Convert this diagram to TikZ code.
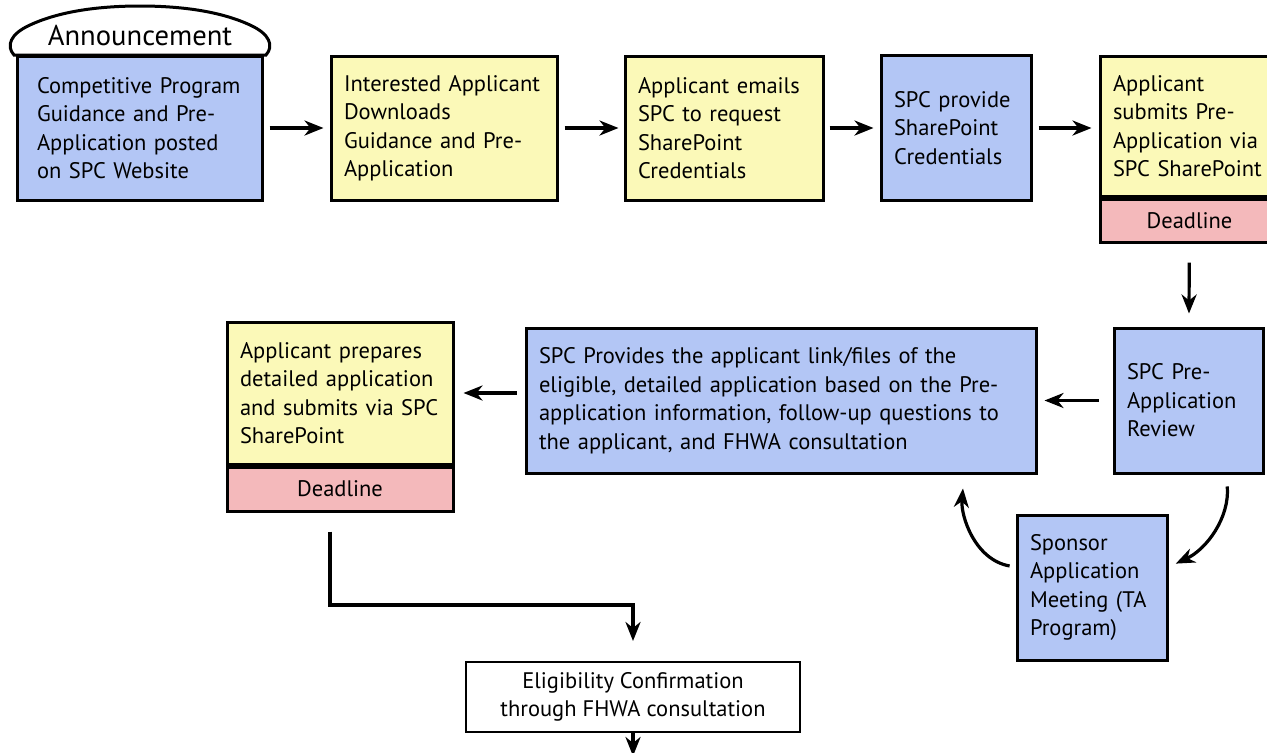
\documentclass[tikz,border=0pt]{standalone}
\usepackage{fontspec}
\setmainfont{PT Sans}
\usetikzlibrary{arrows.meta,positioning}

\definecolor{spcblue}{RGB}{179,198,245}
\definecolor{spcyellow}{RGB}{251,249,184}
\definecolor{spcpink}{RGB}{244,185,187}
\newcommand{\boxfont}{\fontsize{11.25}{14.25}\selectfont}

\tikzset{
  stage/.style={draw, line width=1.5pt, inner xsep=6.5pt, inner ysep=0pt, align=left, font=\boxfont},
  spcstage/.style={stage, fill=spcblue},
  appstage/.style={stage, fill=spcyellow},
  deadline/.style={stage, fill=spcpink, align=center},
  flow/.style={line width=1.6pt, -{Stealth[length=9.5pt,width=7.5pt,inset=3pt]}},
}

\begin{document}
\begin{tikzpicture}[x=0.5pt,y=0.5pt]
\useasboundingbox (0,0) rectangle (1267,-752);
\clip (0,0) rectangle (1267,-752);

% announcement cap
\draw[line width=1.5pt, fill=white] (14,-55) .. controls (6,-46) and (10,-34) .. (30,-25)
  .. controls (60,-11) and (100,-6) .. (140,-6) .. controls (180,-6) and (220,-11) .. (250,-25)
  .. controls (270,-34) and (274,-46) .. (266,-55) -- cycle;
\node[font=\fontsize{14.3}{17}\selectfont] (annc) at (140,-35) {Announcement};

% top row
\node[spcstage, inner xsep=10pt, text width=102.5pt, minimum height=72pt] (post) at (139.5,-128)
  {Competitive Program\\Guidance and Pre-\\Application posted\\on SPC Website};
\node[appstage, text width=100pt, minimum height=72pt] (download) at (444,-128)
  {Interested Applicant\\Downloads\\Guidance and Pre-\\Application};
\node[appstage, text width=86pt, minimum height=72pt] (email) at (724,-128)
  {Applicant emails\\SPC to request\\SharePoint\\Credentials};
\node[spcstage, text width=62pt, minimum height=72.5pt] (creds) at (956,-128)
  {SPC provide\\SharePoint\\Credentials};
\node[appstage, text width=76.5pt, minimum height=70pt] (submit) at (1189.5,-126)
  {Applicant\\submits Pre-\\Application via\\SPC SharePoint};
\node[deadline, below=0pt of submit, minimum width=89.5pt, minimum height=21.5pt] (due1) {Deadline};

% middle row
\node[spcstage, text width=61.5pt, minimum height=72.5pt] (review) at (1188.5,-400.5)
  {SPC Pre-\\Application\\Review};
\node[spcstage, text width=242pt, minimum height=72.5pt] (provide) at (781,-400.5)
  {SPC Provides the applicant link/files of the\\eligible, detailed application based on the Pre-\\application information, follow-up questions to\\the applicant, and FHWA consultation};
\node[appstage, text width=100pt, minimum height=71pt] (prepare) at (340,-393)
  {Applicant prepares\\detailed application\\and submits via SPC\\SharePoint};
\node[deadline, below=0pt of prepare, minimum width=113pt, minimum height=22pt] (due2) {Deadline};
\node[spcstage, text width=62pt, minimum height=72.5pt] (sponsor) at (1092,-587.5)
  {Sponsor\\Application\\Meeting (TA\\Program)};

% bottom
\node[stage, fill=white, line width=1pt, align=center, minimum width=167pt, minimum height=35pt] (elig) at (633,-697)
  {Eligibility Confirmation\\through FHWA consultation};
\coordinate (next) at (633,-756);

% connectors
\draw[flow, shorten <=3pt, shorten >=3pt] (post) -- (download);
\draw[flow, shorten <=3pt, shorten >=2.5pt] (download) -- (email);
\draw[flow, shorten <=2.5pt, shorten >=3pt] (email) -- (creds);
\draw[flow, shorten <=3pt, shorten >=3.5pt] (creds.east) -- (creds.east -| submit.west);
\draw[flow, shorten <=9.5pt, shorten >=6.5pt] (due1) -- (review);
\draw[flow, shorten <=7pt, shorten >=3.5pt] (review) -- (provide);
\draw[flow, shorten <=4pt, shorten >=4.5pt] (provide.west |- prepare.east) -- (prepare.east);
\draw[flow, shorten <=6pt, shorten >=4pt] (review.-63) to[out=-85, in=25] (sponsor.15);
\draw[flow, shorten <=3pt, shorten >=7pt] (sponsor.165) to[out=170, in=-95] (provide.-22);
\draw[flow, shorten >=10pt] ([xshift=-5pt, yshift=-9.5pt]due2.south) |- ([yshift=28pt]elig.north) -- (elig.north);
\draw[flow] (elig) -- (next);
\end{tikzpicture}
\end{document}
